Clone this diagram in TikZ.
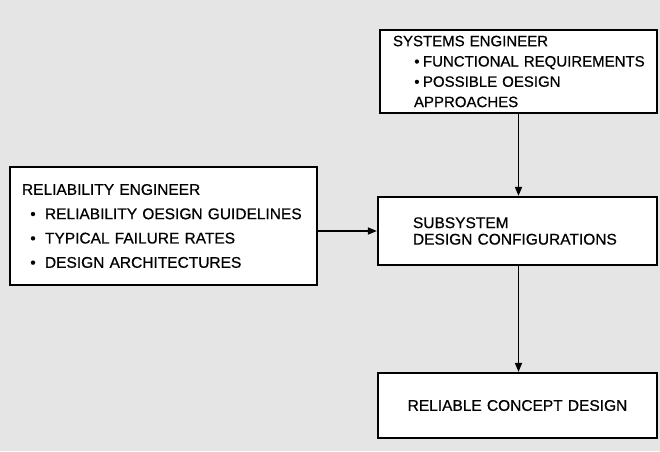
\documentclass[tikz,border=0pt]{standalone}
\usepackage{fontspec}
\setmainfont[FakeBold=0.6]{Liberation Sans}
\usetikzlibrary{positioning}
\usetikzlibrary{arrows.meta}
\usetikzlibrary{backgrounds}
\definecolor{paper}{RGB}{229,229,229}
\newcommand{\bitem}[3]{\mbox{\hspace*{#1}\makebox[#2][l]{\textbullet}#3}}

\begin{document}
\begin{tikzpicture}[x=1pt, y=1pt,
  box/.style={rectangle, draw=black, line width=2.2pt, fill=white,
    inner xsep=0pt, inner ysep=0pt, align=left,
    font=\fontsize{15.5}{20}\selectfont},
  arr/.style={-{Triangle[length=9pt, width=7pt]}, line width=1.6pt}
]
  \fill[paper] (0,0) rectangle (660,451);
  \useasboundingbox (0,0) rectangle (660,451);

  \node[box, minimum width=277pt, minimum height=83pt, text width=251pt,
        font=\fontsize{15}{20.3}\selectfont] (sys) at (518.5,379.5)
    {SYSTEMS ENGINEER\\
     \bitem{21.3pt}{8.7pt}{FUNCTIONAL REQUIREMENTS}\\
     \bitem{21.3pt}{8.7pt}{POSSIBLE OESIGN}\\
     \hspace*{21pt}APPROACHES};
  \node[box, minimum width=307pt, minimum height=118pt, text width=283pt,
        font=\fontsize{15.5}{24.3}\selectfont] (rel) at (163.5,225)
    {RELIABILITY ENGINEER\\
     \bitem{8.3pt}{14.7pt}{RELIABILITY OESIGN GUIDELINES}\\
     \bitem{8.3pt}{14.7pt}{TYPICAL FAILURE RATES}\\
     \bitem{8.3pt}{14.7pt}{DESIGN ARCHITECTURES}};
  \node[box, minimum width=279pt, minimum height=68pt, text width=209pt,
        font=\fontsize{15.5}{16.5}\selectfont] (sub) at (517.5,220)
    {SUBSYSTEM\\ DESIGN CONFIGURATIONS};
  \node[box, minimum width=279pt, minimum height=65pt, text width=240pt,
        align=center] (con) at (517.5,45.5)
    {RELIABLE CONCEPT DESIGN};

  \draw[arr] (sys.south) -- (sys.south |- sub.north);
  \draw[arr] (rel.east |- sub.west) -- (sub.west);
  \draw[arr] (sys.south |- sub.south) -- (sys.south |- con.north);
\end{tikzpicture}
\end{document}
